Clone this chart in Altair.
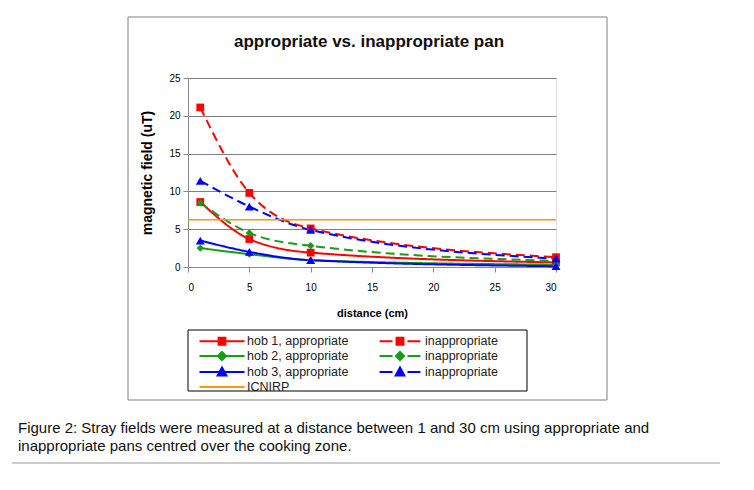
import altair as alt
import pandas as pd

# ---- data ----
distance = [1, 5, 10, 30]
series_names = [
    "hob 1, appropriate", "hob 1, inappropriate",
    "hob 2, appropriate", "hob 2, inappropriate",
    "hob 3, appropriate", "hob 3, inappropriate",
]
hob1_appropriate = [8.6, 3.7, 1.9, 0.6]
hob1_inappropriate = [21.1, 9.8, 5.1, 1.3]
hob2_appropriate = [2.5, 1.7, 0.9, 0.3]
hob2_inappropriate = [8.5, 4.5, 2.8, 0.8]
hob3_appropriate = [3.5, 2.0, 0.9, 0.1]
hob3_inappropriate = [11.4, 8.0, 4.9, 1.1]
icnirp_level = [6.25]
legend_names = series_names + ["ICNIRP"]
x_ticks = [0, 5, 10, 15, 20, 25, 30]
y_ticks = [0, 5, 10, 15, 20, 25]
chart_title = "appropriate vs. inappropriate pan"
caption_lines = [
    "Figure 2: Stray fields were measured at a distance between 1 and 30 cm using appropriate and",
    "inappropriate pans centred over the cooking zone.",
]

all_values = [hob1_appropriate, hob1_inappropriate, hob2_appropriate,
              hob2_inappropriate, hob3_appropriate, hob3_inappropriate]
rows = []
for name, vals in zip(series_names, all_values):
    hob, pan = name.split(", ")
    for d, v in zip(distance, vals):
        rows.append({"series": name, "hob": hob, "pan": pan, "distance": d, "field": v})
df = pd.DataFrame(rows)

FONT = "Liberation Sans"
RED, GREEN, BLUE, ORANGE = "#FF0000", "#159d15", "#0000FF", "#FF9900"
colors = [RED, RED, GREEN, GREEN, BLUE, BLUE, ORANGE]
color_scale = alt.Scale(domain=series_names, range=colors[:6])

x_enc = alt.X("distance:Q", scale=alt.Scale(domain=[0, 30], nice=False),
              axis=alt.Axis(values=x_ticks, title="distance (cm)", grid=False,
                            labelPadding=10, titlePadding=15))
y_enc = alt.Y("field:Q", scale=alt.Scale(domain=[0, 25], nice=False),
              axis=alt.Axis(values=y_ticks, title="magnetic field (uT)", grid=True,
                            gridColor="#808080", gridWidth=1.2,
                            labelPadding=3, titlePadding=14, titleFontSize=14))

lines = alt.Chart(df).mark_line(interpolate="monotone", strokeWidth=2).encode(
    x=x_enc, y=y_enc,
    color=alt.Color("series:N", scale=color_scale, legend=None),
    strokeDash=alt.StrokeDash("pan:N", scale=alt.Scale(domain=["appropriate", "inappropriate"],
                                                        range=[[1, 0], [9, 5]]), legend=None),
    detail="series:N",
)


def marker_layer(hob, shape, size):
    return alt.Chart(df).transform_filter(alt.datum.hob == hob).mark_point(
        shape=shape, filled=True, size=size, opacity=1
    ).encode(x=x_enc, y=y_enc, color=alt.Color("series:N", scale=color_scale, legend=None))


pts1 = marker_layer("hob 1", "square", 60)
pts2 = marker_layer("hob 2", "diamond", 55)
pts3 = marker_layer("hob 3", "triangle-up", 80)

icn = alt.Chart(pd.DataFrame({"series": ["ICNIRP"], "field": icnirp_level})).mark_rule(
    strokeWidth=1.5, color=ORANGE).encode(y=y_enc)

# legend symbols: line + marker (path units are 6 px at symbol size 144)
sq = "M-0.57,-0.57L0.57,-0.57L0.57,0.57L-0.57,0.57Z"
dm = "M0,-0.68L0.68,0L0,0.68L-0.68,0Z"
tr = "M0,-0.75L0.72,0.57L-0.72,0.57Z"
solid = "M-3.75,0L3.75,0"
dashed = "M-3.4,0L-1.25,0M1.25,0L3.4,0"
legend_shapes = [solid + sq, dashed + sq, solid + dm, dashed + dm, solid + tr, dashed + tr, solid]

leg = alt.Legend(
    title=None, orient="none", legendX=21, legendY=250, columns=2, direction="horizontal",
    columnPadding=26, rowPadding=-5, padding=6,
    labelFont=FONT, labelFontSize=12.5, labelColor="#222222",
    symbolSize=144, symbolStrokeWidth=2, symbolOpacity=1, labelOffset=18,
    labelExpr="indexof(datum.label, 'inappropriate') >= 0 ? 'inappropriate' : datum.label",
)
legend_layer = alt.Chart(pd.DataFrame({"series": legend_names})).mark_point(
    filled=True, opacity=0, size=144).encode(
    fill=alt.Fill("series:N", scale=alt.Scale(domain=legend_names, range=colors), legend=leg),
    stroke=alt.Stroke("series:N", scale=alt.Scale(domain=legend_names, range=colors), legend=leg),
    shape=alt.Shape("series:N", scale=alt.Scale(domain=legend_names, range=legend_shapes), legend=leg),
)

one = pd.DataFrame({"k": [0]})
frame = alt.Chart(one).mark_rect(fill="white", fillOpacity=0, stroke="#808080",
                                 strokeWidth=1).encode(
    x=alt.value(-60), x2=alt.value(419), y=alt.value(-61), y2=alt.value(322))

legend_box = alt.Chart(one).mark_rect(fill="white", fillOpacity=0, stroke="#000000",
                                      strokeWidth=1).encode(
    x=alt.value(0), x2=alt.value(339), y=alt.value(252), y2=alt.value(313))

title_text = alt.Chart(pd.DataFrame({"t": [chart_title]})).mark_text(
    align="center", baseline="alphabetic", font=FONT, fontSize=17, fontWeight="bold",
    color="#111111").encode(x=alt.value(181), y=alt.value(-31), text="t:N")

caption = alt.Chart(pd.DataFrame({"t": ["\n".join(caption_lines)]})).mark_text(
    align="left", baseline="alphabetic", font=FONT, fontSize=15, color="#111111",
    lineBreak="\n", lineHeight=18).encode(
    x=alt.value(-170), y=alt.value(355), text="t:N")

sep = alt.Chart(one).mark_rule(color="#cccccc", strokeWidth=2).encode(
    x=alt.value(-176), x2=alt.value(532), y=alt.value(385))

chart = alt.layer(frame, legend_box, title_text, lines, pts1, pts2, pts3, icn, legend_layer,
                  caption, sep).properties(
    width=368, height=189,
    autosize=alt.AutoSizeParams(type="none"),
    padding={"left": 180, "top": 70, "right": 180, "bottom": 200},
).configure_view(stroke="#808080", strokeWidth=1).configure_axis(
    labelFont=FONT, labelFontSize=13, labelColor="#333333",
    titleFont=FONT, titleFontSize=13, titleFontWeight="bold", titleColor="#111111",
    tickColor="#000000", tickSize=4, domainColor="#000000", domainWidth=1,
).configure(background="white")

chart.save("out.html", embed_options={"renderer": "svg", "actions": False})
